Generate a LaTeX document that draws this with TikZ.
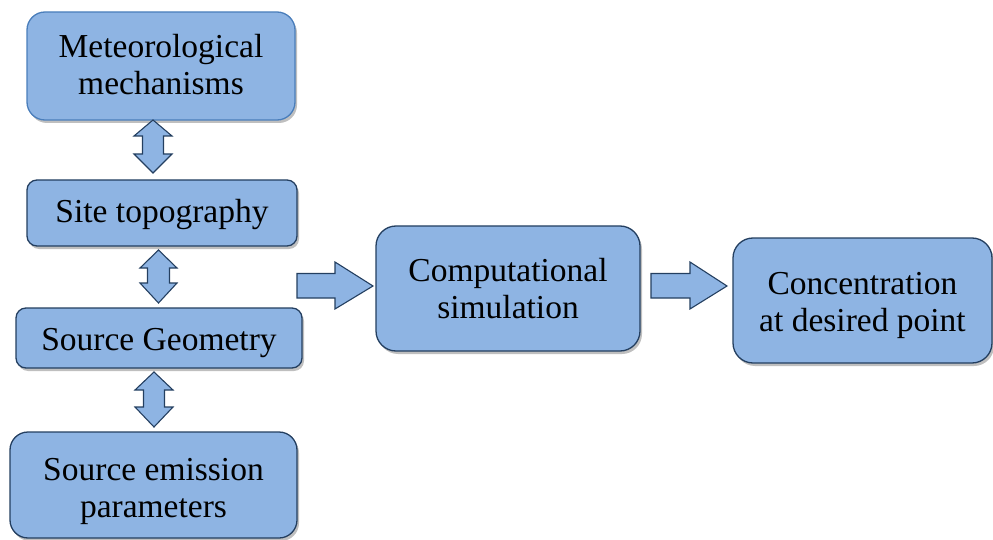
\documentclass[tikz,border=0pt]{standalone}
\usepackage{fontspec}
\setmainfont{Liberation Serif}
\usetikzlibrary{shadows,calc}
\definecolor{boxfill}{HTML}{8EB4E3}
\definecolor{boxline}{HTML}{243F60}
\definecolor{lightline}{HTML}{4A7EBB}
\tikzset{
  box/.style={draw=boxline, line width=1.3pt, fill=boxfill, align=center,
    inner sep=0pt, font=\fontsize{33.5}{37}\selectfont,
    drop shadow={shadow xshift=2pt, shadow yshift=-3pt, opacity=0.25, fill=black}},
  blockarrow/.style={draw=boxline, line width=1.1pt, fill=boxfill, line join=miter}
}
\begin{document}
\begin{tikzpicture}[x=1pt,y=-1pt]
\useasboundingbox (0,0) rectangle (993,540);
\clip (0,0) rectangle (993,540);
\node[box, draw=lightline, rounded corners=18pt, minimum width=268pt, minimum height=108pt, text height=66pt, text depth=8pt] (met) at (161,66) {Meteorological\\mechanisms};
\node[box, rounded corners=10pt, minimum width=270pt, minimum height=66pt, text height=25.5pt, text depth=7pt] (site) at (162,213) {Site topography};
\node[box, rounded corners=10pt, minimum width=286pt, minimum height=60pt, text height=30pt, text depth=6pt] (geom) at (159,338) {Source Geometry};
\node[box, rounded corners=18pt, minimum width=287pt, minimum height=106pt, text height=71.5pt, text depth=6pt] (emis) at (153.5,485) {Source emission\\parameters};
\node[box, rounded corners=20pt, minimum width=264pt, minimum height=125pt, text height=65.5pt, text depth=6pt] (comp) at (508,288.5) {Computational\\simulation};
\node[box, rounded corners=20pt, minimum width=259pt, minimum height=125pt, text height=69.4pt, text depth=7pt] (conc) at (862.5,300.5) {Concentration\\at desired point};
% vertical double arrows
\coordinate (a1) at (153,120);
\draw[blockarrow] (a1) -- ++(19,16) -- ++(-8.5,0) -- ++(0,18) -- ++(8.5,0) -- ++(-19,19) -- ++(-19,-19) -- ++(8.5,0) -- ++(0,-18) -- ++(-8.5,0) -- cycle;
\coordinate (a2) at (158.5,250);
\draw[blockarrow] (a2) -- ++(18.5,18) -- ++(-7.5,0) -- ++(0,15) -- ++(7.5,0) -- ++(-18.5,20) -- ++(-18.5,-20) -- ++(7.5,0) -- ++(0,-15) -- ++(-7.5,0) -- cycle;
\coordinate (a3) at (154,372);
\draw[blockarrow] (a3) -- ++(19,18) -- ++(-8.5,0) -- ++(0,17) -- ++(8.5,0) -- ++(-19,20) -- ++(-19,-20) -- ++(8.5,0) -- ++(0,-17) -- ++(-8.5,0) -- cycle;
% horizontal arrows
\coordinate (h1) at (297,286);
\draw[blockarrow] (h1) -- ++(0,-12.5) -- ++(38,0) -- ++(0,-11.5) -- ++(38,24) -- ++(-38,23) -- ++(0,-11) -- ++(-38,0) -- cycle;
\coordinate (h2) at (651,286);
\draw[blockarrow] (h2) -- ++(0,-12.5) -- ++(39,0) -- ++(0,-11.5) -- ++(37,24) -- ++(-37,23) -- ++(0,-11) -- ++(-39,0) -- cycle;
\end{tikzpicture}
\end{document}
